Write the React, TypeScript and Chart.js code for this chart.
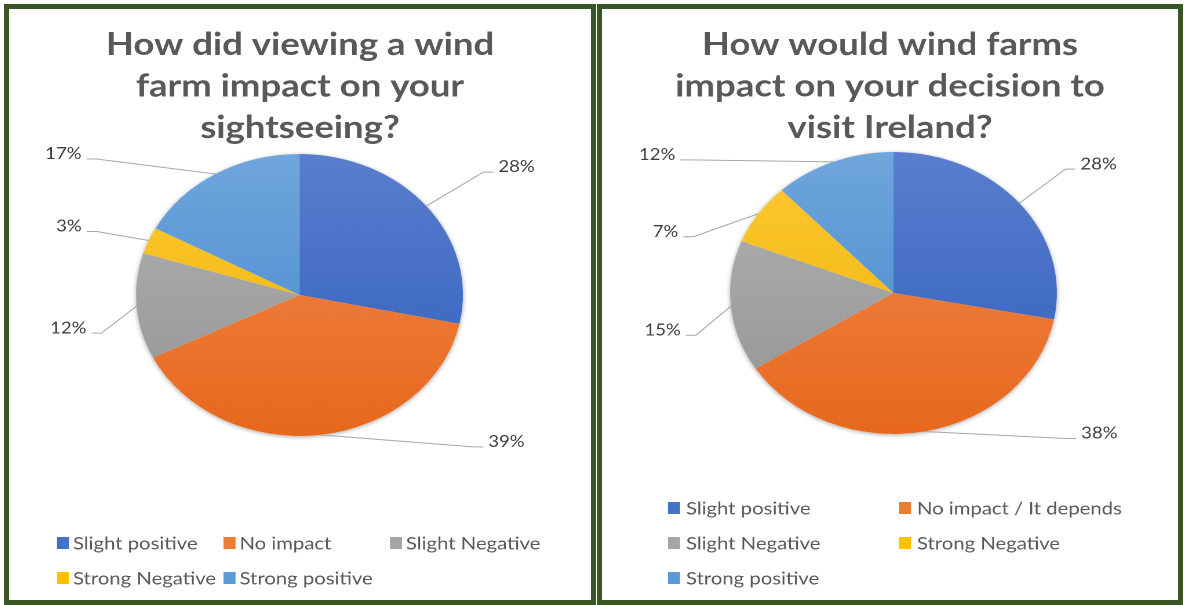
import { useEffect, useRef } from "react";
import { Chart, registerables } from "chart.js";

Chart.register(...registerables);

// ---------------- data ----------------
const leftTitle = ["How did viewing a wind", "farm impact on your", "sightseeing?"];
const leftCategories = ["Slight positive", "No impact", "Slight Negative", "Strong Negative", "Strong positive"];
const leftValues = [28, 39, 12, 3, 17];

const rightTitle = ["How would wind farms", "impact on your decision to", "visit Ireland?"];
const rightCategories = ["Slight positive", "No impact / It depends", "Slight Negative", "Strong Negative", "Strong positive"];
const rightValues = [28, 38, 15, 7, 12];

// ---------------- styles ----------------
const swatch = ["#4472c4", "#ed7d31", "#a5a5a5", "#ffc000", "#5b9bd5"];
const gradTop = ["#5a7ecf", "#f28a52", "#b3b3b3", "#ffc935", "#6fa6dc"];
const gradBottom = ["#2f5ebc", "#e7681c", "#939393", "#ebb100", "#4186cd"];
// label nudges (visual px) relative to the slice's outer edge mid-point
const leftLabelNudge = [[72, -39], [168, 7], [-50, 22], [-67, -14], [-134, -20]];
const rightLabelNudge = [[61, -39], [157, 2], [-50, 24], [-80, 18], [-158, -7]];

const STRETCH = 1.16;
const BORDER = 5;
const FONT = "Lato, 'Open Sans', sans-serif";

type Box = { left: number; top: number; width: number; height: number };
type PanelProps = {
  title: string[];
  categories: string[];
  values: number[];
  nudges: number[][];
  box: Box;
  pie: { cx: number; cy: number; r: number };
  legend: { x: number; y: number; colW: number; rowH: number; cols: number; textGap: number };
};

function PiePanel(p: PanelProps) {
  const ref = useRef<HTMLCanvasElement | null>(null);
  const innerW = p.box.width - 2 * BORDER;
  const innerH = p.box.height - 2 * BORDER;
  const logicalW = Math.round(innerW / STRETCH);
  const sx = innerW / logicalW;

  useEffect(() => {
    const canvas = ref.current!;
    canvas.width = logicalW;
    canvas.height = innerH;
    const cx = p.pie.cx / sx;
    const cy = p.pie.cy;
    const r = p.pie.r;

    const decor = {
      id: "panelDecor",
      beforeDatasetsDraw(chart: any) {
        const el = chart.getDatasetMeta(0).data[0];
        if (!el) return;
        const { x, y, outerRadius } = el.getProps(["x", "y", "outerRadius"], true);
        const ctx = chart.ctx;
        ctx.save();
        ctx.shadowColor = "rgba(0,0,0,0.35)";
        ctx.shadowBlur = 8;
        ctx.shadowOffsetX = 0;
        ctx.shadowOffsetY = 2;
        ctx.fillStyle = "#ffffff";
        ctx.beginPath();
        ctx.arc(x, y, outerRadius, 0, Math.PI * 2);
        ctx.fill();
        ctx.restore();
      },
      afterDraw(chart: any) {
        const ctx = chart.ctx;
        const meta = chart.getDatasetMeta(0);
        ctx.save();
        // title
        ctx.fillStyle = "#595959";
        ctx.font = `bold 31.5px ${FONT}`;
        ctx.textAlign = "center";
        ctx.textBaseline = "middle";
        p.title.forEach((line, i) => ctx.fillText(line, logicalW / 2, 36 + i * 41.5));

        // data labels with leader lines
        ctx.font = `16px ${FONT}`;
        ctx.strokeStyle = "#a6a6a6";
        ctx.lineWidth = 1;
        meta.data.forEach((el: any, i: number) => {
          const { x, y, startAngle, endAngle, outerRadius } = el.getProps(
            ["x", "y", "startAngle", "endAngle", "outerRadius"],
            true
          );
          const mid = (startAngle + endAngle) / 2;
          const ex = x + outerRadius * Math.cos(mid);
          const ey = y + outerRadius * Math.sin(mid);
          const right = Math.cos(mid) >= 0;
          const [ndx, ndy] = p.nudges[i];
          const tx = ex + ndx / sx;
          const ty = ey + ndy;
          const dir = right ? -1 : 1;
          const ly = ty + 5;
          ctx.beginPath();
          ctx.moveTo(ex, ey);
          ctx.lineTo(tx + (dir * 15) / sx, ly);
          ctx.lineTo(tx + (dir * 5) / sx, ly);
          ctx.stroke();
          ctx.fillStyle = "#404040";
          ctx.textAlign = right ? "left" : "right";
          ctx.fillText(`${p.values[i]}%`, tx, ty);
        });

        // legend
        const L = p.legend;
        ctx.font = `17.5px ${FONT}`;
        ctx.textAlign = "left";
        ctx.textBaseline = "middle";
        p.categories.forEach((cat, i) => {
          const col = i % L.cols;
          const row = Math.floor(i / L.cols);
          const bx = (L.x + col * L.colW) / sx;
          const by = L.y + row * L.rowH;
          ctx.fillStyle = swatch[i];
          ctx.fillRect(bx, by - 6, 12 / sx, 12);
          ctx.fillStyle = "#595959";
          ctx.fillText(cat, bx + L.textGap / sx, by + 1);
        });
        ctx.restore();
      },
    };

    const chart = new Chart(canvas, {
      type: "pie",
      data: {
        labels: p.categories,
        datasets: [
          {
            data: p.values,
            backgroundColor: (c: any) => {
              const i = c.dataIndex ?? 0;
              const ch = c.chart;
              if (!ch.chartArea) return swatch[i];
              const g = ch.ctx.createLinearGradient(0, cy - r, 0, cy + r);
              g.addColorStop(0, gradTop[i]);
              g.addColorStop(1, gradBottom[i]);
              return g;
            },
            borderWidth: 0,
            hoverOffset: 0,
            radius: r,
          } as any,
        ],
      },
      options: {
        responsive: false,
        animation: false,
        devicePixelRatio: 2,
        events: [],
        layout: {
          padding: { left: cx - r, right: logicalW - cx - r, top: cy - r, bottom: innerH - cy - r },
        },
        plugins: {
          legend: { display: false },
          title: { display: false },
          tooltip: { enabled: false },
        },
      },
      plugins: [decor],
    });
    return () => chart.destroy();
  }, []);

  return (
    <div
      style={{
        position: "absolute",
        left: p.box.left,
        top: p.box.top,
        width: p.box.width,
        height: p.box.height,
        border: `${BORDER}px solid #375623`,
        boxSizing: "border-box",
        background: "#ffffff",
      }}
    >
      <canvas ref={ref} width={logicalW} height={innerH} style={{ display: "block", width: innerW, height: innerH }} />
    </div>
  );
}

export default function App() {
  return (
    <div>
      <PiePanel
        title={leftTitle}
        categories={leftCategories}
        values={leftValues}
        nudges={leftLabelNudge}
        box={{ left: 4, top: 4, width: 592, height: 601 }}
        pie={{ cx: 290.5, cy: 286, r: 141 }}
        legend={{ x: 48, y: 534, colW: 166.5, rowH: 35, cols: 3, textGap: 16 }}
      />
      <PiePanel
        title={rightTitle}
        categories={rightCategories}
        values={rightValues}
        nudges={rightLabelNudge}
        box={{ left: 597, top: 4, width: 586, height: 601 }}
        pie={{ cx: 291.5, cy: 284, r: 141 }}
        legend={{ x: 66, y: 499, colW: 231, rowH: 35, cols: 2, textGap: 18 }}
      />
    </div>
  );
}
